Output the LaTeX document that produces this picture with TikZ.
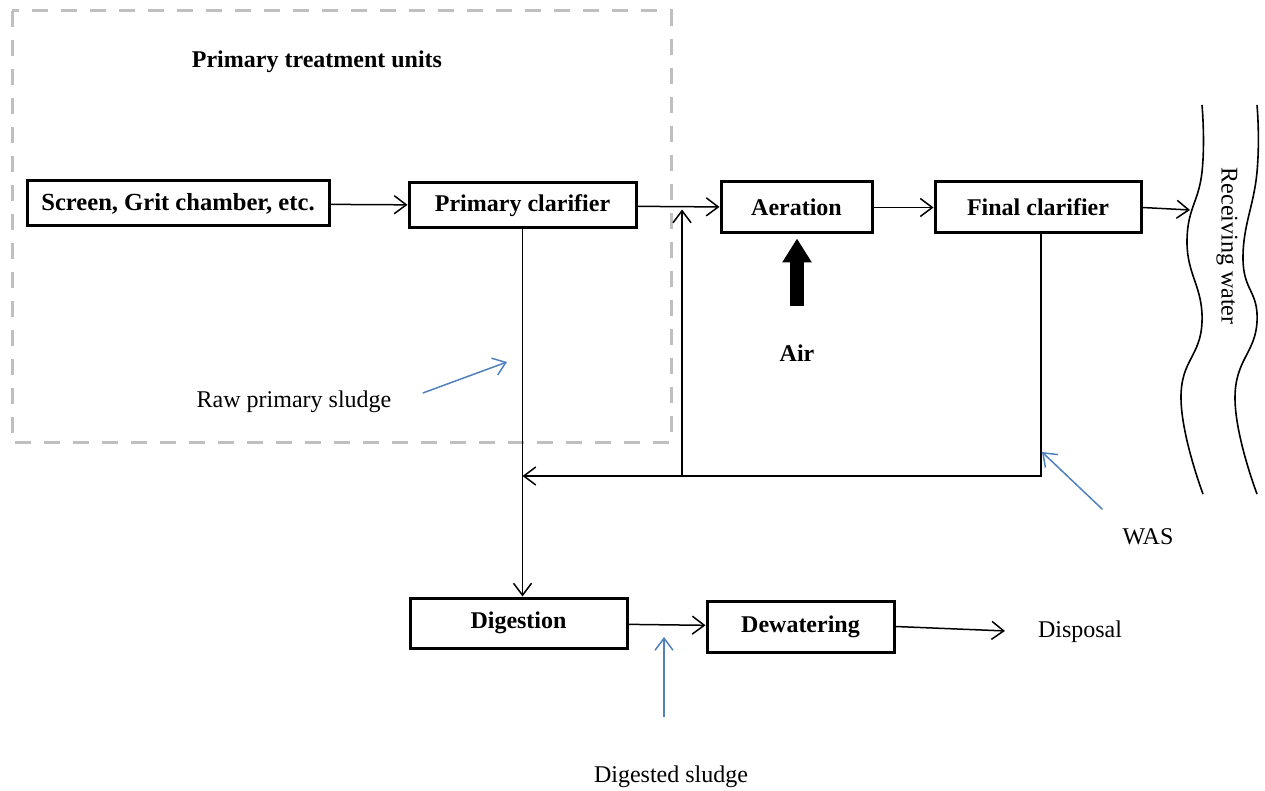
\documentclass[tikz,border=0pt]{standalone}
\usepackage{fontspec}
\setmainfont{Liberation Serif}
\usetikzlibrary{arrows.meta}
\definecolor{noteblue}{RGB}{79,129,189}
\definecolor{dashgray}{RGB}{191,191,191}
\tikzset{
  label/.style={font=\fontsize{12}{14}\selectfont},
  boldlabel/.style={font=\fontsize{12}{14}\selectfont\bfseries},
  unit/.style={draw=black, line width=1.5pt, inner sep=0pt, font=\fontsize{12}{14}\selectfont\bfseries},
  flow/.style={draw=black, line width=0.75pt, -{Straight Barb[length=6pt,width=9pt]}},
  note/.style={draw=noteblue, line width=0.75pt, -{Straight Barb[length=6pt,width=9pt]}},
  airflow/.style={draw=black, line width=7pt, -{Triangle[length=12pt,width=14pt]}},
  shore/.style={draw=black, line width=0.8pt}
}
\begin{document}
\begin{tikzpicture}[x=0.5pt,y=-0.5pt]
\pgfmathsetlengthmacro\px{0.5pt};
\useasboundingbox (0,0) rectangle (1265,791);
\draw[dashgray, line width=1.5pt, dash pattern=on 8pt off 6.5pt] (12,11) rectangle (671,443);
\node[boldlabel] (ptu) at (317,62) {Primary treatment units};
\node[unit, minimum width=302*\px, minimum height=45*\px, font=\fontsize{12.3}{15}\selectfont\bfseries] (screen) at (178,203.5) {Screen, Grit chamber, etc.};
\node[unit, minimum width=227*\px, minimum height=45*\px] (primclar) at (522.5,205.5) {Primary clarifier};
\node[unit, minimum width=151*\px, minimum height=51*\px] (aeration) at (796.5,207.5) {Aeration};
\node[unit, minimum width=206*\px, minimum height=51*\px] (finalclar) at (1038,207.5) {Final clarifier};
\node[unit, minimum width=217*\px, minimum height=50*\px] (digestion) at (518.5,623) {Digestion};
\node[unit, minimum width=187*\px, minimum height=51*\px] (dewatering) at (800.5,626.5) {Dewatering};
\node[label] (disposal) at (1080,632) {Disposal};
\node[boldlabel] (air) at (797,353) {Air};
\node[label] (rawl) at (294,402) {Raw primary sludge};
\node[label] (wasl) at (1148,537) {WAS};
\node[label] (digl) at (671,777) {Digested sludge};
\node[label, rotate=-90] (rw) at (1227,246) {Receiving water};
\coordinate (shoreline) at (1190,210);
\coordinate (bend) at (1041,476);
\coordinate (split) at (682,476);
\coordinate (rawtip) at (507,362);
\coordinate (wastip) at (1042,452);
\coordinate (digtip) at (664,637);
\draw[shore] plot[smooth, tension=0.8] coordinates {(1202,105) (1202,172) (1187,242) (1202,322) (1181,398) (1203,494)};
\draw[shore] plot[smooth, tension=0.8] coordinates {(1257,105) (1257,172) (1243,258) (1257,322) (1235,398) (1257,494)};
\draw[flow] (screen) -- (primclar);
\draw[flow] (primclar) -- (aeration);
\draw[flow] (aeration) -- (finalclar);
\draw[flow] (finalclar.east) -- (shoreline);
\draw[flow] (primclar.south) -- (primclar.south |- digestion.north);
\draw[flow] (digestion) -- (dewatering);
\draw[flow, shorten >=13pt] (dewatering.east) -- (disposal.west);
\draw[flow] (bend |- finalclar.south) -- (bend) -- (bend -| primclar.south);
\draw[flow, shorten >=2pt] (split) -- (split |- primclar.east);
\draw[airflow, shorten <=16pt, shorten >=2pt] (air.north) -- (air.north |- aeration.south);
\draw[note, shorten <=13pt] (rawl.east) -- (rawtip);
\draw[note, shorten <=9pt] (wasl.north west) -- (wastip);
\draw[note, shorten <=21pt] (digtip |- digl.north) -- (digtip);
\end{tikzpicture}
\end{document}
